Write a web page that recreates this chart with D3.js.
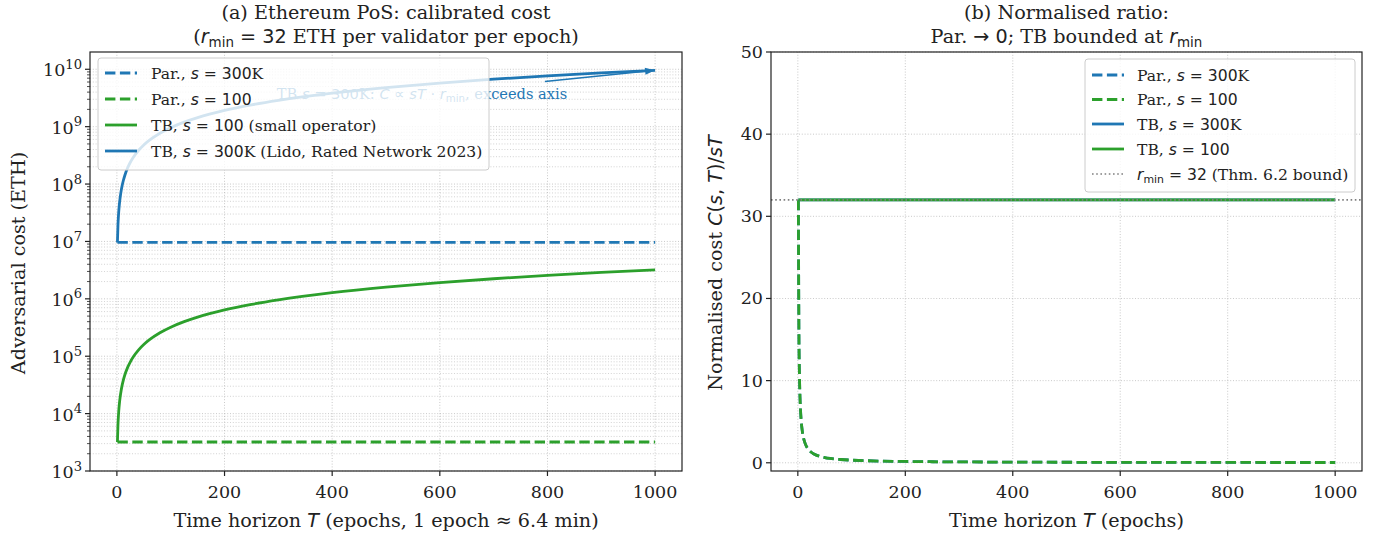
<!DOCTYPE html>
<html><head><meta charset="utf-8">
<script src="https://cdn.jsdelivr.net/npm/d3@7"></script>
<style>html,body{margin:0;padding:0;background:#fff;} svg{display:block;}</style>
</head><body>
<svg id="chart" width="1382" height="535"></svg>
<script>
// ---------------- DATA ----------------
const T_SAMPLES = [1,2,3,4,5,6,8,10,12,15,20,25,30,40,50,60,80,100,125,150,200,250,300,400,500,600,700,800,900,1000];
const T_ENDS = [1, 1000];
// Panel (a): adversarial cost (ETH)
const TB_S100_COST = [3200,6400,9600,12800,16000,19200,25600,32000,38400,48000,64000,80000,96000,128000,160000,192000,256000,320000,400000,480000,640000,800000,960000,1280000,1600000,1920000,2240000,2560000,2880000,3200000];
const TB_S300K_COST = [9.6e6,1.92e7,2.88e7,3.84e7,4.8e7,5.76e7,7.68e7,9.6e7,1.152e8,1.44e8,1.92e8,2.4e8,2.88e8,3.84e8,4.8e8,5.76e8,7.68e8,9.6e8,1.2e9,1.44e9,1.92e9,2.4e9,2.88e9,3.84e9,4.8e9,5.76e9,6.72e9,7.68e9,8.64e9,9.6e9];
const PAR_S300K_COST = [9.6e6, 9.6e6];
const PAR_S100_COST = [3200, 3200];
// Panel (b): normalised ratio C/(sT)
const PAR_RATIO = [32,16,10.67,8,6.4,5.33,4,3.2,2.67,2.13,1.6,1.28,1.07,0.8,0.64,0.53,0.4,0.32,0.256,0.213,0.16,0.128,0.107,0.08,0.064,0.053,0.046,0.04,0.036,0.032];
const TB_RATIO = [32, 32];
const R_MIN = 32;
// Axes ticks
const X_TICKS = [0,200,400,600,800,1000];
const LOG_TICKS = [3,4,5,6,7,8,9,10];
const RATIO_TICKS = [0,10,20,30,40,50];
const ANNOT_POINT = [1000, 9.6e9];

// ---------------- SETUP ----------------
const svg = d3.select("#chart");
const BLUE = "#1f77b4", GREEN = "#2ca02c";
const SERIF = "DejaVu Serif", SANS = "DejaVu Sans";
const LW = 2.8;
const DASH = "10.4,4.5";
const FT = 17.5, FL = 19.2, FLEG = 15.6, FA = 14.6;

function rich(t, parts, size) {
  let pendingDy = 0;
  parts.forEach(([s, k]) => {
    const sp = t.append("tspan").text(s);
    let dy = pendingDy; pendingDy = 0;
    if (k === "r") { sp.attr("font-family", SERIF); }
    else if (k === "i") { sp.attr("font-family", SANS).attr("font-style", "italic"); }
    else if (k === "m") { sp.attr("font-family", SANS); }
    else if (k === "sub") { sp.attr("font-family", SANS).attr("font-size", size*0.7); dy += size*0.22; pendingDy = -size*0.22; }
    else if (k === "sup") { sp.attr("font-family", SERIF).attr("font-size", size*0.75); dy += -size*0.42; pendingDy = size*0.42; }
    if (dy) sp.attr("dy", dy);
  });
  return t;
}

function frame(g, x0, x1, y0, y1) {
  g.append("rect").attr("x", x0).attr("y", y0).attr("width", x1-x0).attr("height", y1-y0)
    .attr("fill", "none").attr("stroke", "#222").attr("stroke-width", 1.2);
}

function gridLine(g, x1, y1, x2, y2, op) {
  g.append("line").attr("x1", x1).attr("y1", y1).attr("x2", x2).attr("y2", y2)
    .attr("stroke", "#b0b0b0").attr("stroke-width", 0.9).attr("stroke-dasharray", "1,1.8")
    .attr("opacity", op);
}

// ---------------- PANEL A ----------------
const A = {l: 90, r: 682, t: 52, b: 471};
const xA = d3.scaleLinear().domain([-49.95, 1049.95]).range([A.l, A.r]);
const yA = d3.scaleLog().domain([1e3, 2e10]).range([A.b, A.t]);
const gA = svg.append("g");
svg.append("clipPath").attr("id", "clipA").append("rect").attr("x", A.l).attr("y", A.t).attr("width", A.r-A.l).attr("height", A.b-A.t);
const gridA = gA.append("g");
X_TICKS.forEach(v => gridLine(gridA, xA(v), A.t, xA(v), A.b, 0.75));
for (let e = 3; e <= 10; e++) {
  gridLine(gridA, A.l, yA(Math.pow(10, e)), A.r, yA(Math.pow(10, e)), 0.75);
  for (let m = 2; m <= 9; m++) {
    const v = m * Math.pow(10, e);
    if (v < 2e10) gridLine(gridA, A.l, yA(v), A.r, yA(v), 0.6);
  }
}
const lineA = (xs, ys) => d3.line().x((d, i) => xA(xs[i])).y((d) => yA(d)).curve(d3.curveMonotoneX)(ys);
const plotA = gA.append("g").attr("clip-path", "url(#clipA)");
plotA.append("path").attr("d", lineA(T_ENDS, PAR_S300K_COST)).attr("fill", "none").attr("stroke", BLUE).attr("stroke-width", LW).attr("stroke-dasharray", DASH);
plotA.append("path").attr("d", lineA(T_ENDS, PAR_S100_COST)).attr("fill", "none").attr("stroke", GREEN).attr("stroke-width", LW).attr("stroke-dasharray", DASH);
plotA.append("path").attr("d", lineA(T_SAMPLES, TB_S100_COST)).attr("fill", "none").attr("stroke", GREEN).attr("stroke-width", LW);
plotA.append("path").attr("d", lineA(T_SAMPLES, TB_S300K_COST)).attr("fill", "none").attr("stroke", BLUE).attr("stroke-width", LW);

// annotation
const annCx = 422, annCy = 94;
const annT = gA.append("text").attr("x", annCx).attr("y", annCy + 5).attr("text-anchor", "middle").attr("font-size", FA).attr("fill", BLUE);
rich(annT, [["TB ", "r"], ["s", "i"], [" = 300", "m"], ["K: ", "r"], ["C", "i"], [" \u221D ", "m"], ["sT", "i"], [" \u00B7 ", "m"], ["r", "i"], ["min", "sub"], [", exceeds axis", "r"]], FA);
{
  const px = xA(ANNOT_POINT[0]), py = yA(ANNOT_POINT[1]);
  const slope = (py - annCy) / (px - annCx);
  const sy = annCy - 12.5, sx = annCx + (sy - annCy) / slope;
  const ang = Math.atan2(py - sy, px - sx);
  const hl = 10, hw = 3.5;
  const bx = px - hl*Math.cos(ang), by = py - hl*Math.sin(ang);
  gA.append("line").attr("x1", sx).attr("y1", sy).attr("x2", bx).attr("y2", by).attr("stroke", BLUE).attr("stroke-width", 1.4);
  const p1 = [bx + hw*Math.sin(ang), by - hw*Math.cos(ang)], p2 = [bx - hw*Math.sin(ang), by + hw*Math.cos(ang)];
  gA.append("path").attr("d", `M${px},${py}L${p1[0]},${p1[1]}L${p2[0]},${p2[1]}Z`).attr("fill", BLUE);
}

// axes A
frame(gA, A.l, A.r, A.t, A.b);
X_TICKS.forEach(v => {
  gA.append("line").attr("x1", xA(v)).attr("x2", xA(v)).attr("y1", A.b).attr("y2", A.b + 5).attr("stroke", "#222").attr("stroke-width", 1.2);
  gA.append("text").attr("x", xA(v)).attr("y", A.b + 27).attr("text-anchor", "middle").attr("font-family", SERIF).attr("font-size", FT).attr("fill", "#222").text(v);
});
LOG_TICKS.forEach(e => {
  const y = yA(Math.pow(10, e));
  gA.append("line").attr("x1", A.l - 5).attr("x2", A.l).attr("y1", y).attr("y2", y).attr("stroke", "#222").attr("stroke-width", 1.2);
  const t = gA.append("text").attr("x", A.l - 8).attr("y", y + 7).attr("text-anchor", "end").attr("font-family", SERIF).attr("font-size", FT).attr("fill", "#222");
  rich(t, [["10", "r"], [String(e), "sup"]], FT);
  for (let m = 2; m <= 9; m++) {
    const v = m * Math.pow(10, e);
    if (v < 2e10) gA.append("line").attr("x1", A.l - 3).attr("x2", A.l).attr("y1", yA(v)).attr("y2", yA(v)).attr("stroke", "#222").attr("stroke-width", 0.8);
  }
});
gA.append("text").attr("transform", `translate(25,263) rotate(-90)`).attr("text-anchor", "middle").attr("font-family", SERIF).attr("font-size", FL).attr("fill", "#222").text("Adversarial cost (ETH)");
{
  const t = gA.append("text").attr("x", (A.l + A.r)/2).attr("y", 527).attr("text-anchor", "middle").attr("font-size", FL).attr("fill", "#222");
  rich(t, [["Time horizon ", "r"], ["T", "i"], [" (epochs, 1 epoch \u2248 6.4 min)", "r"]], FL);
}
gA.append("text").attr("x", (A.l + A.r)/2).attr("y", 19).attr("text-anchor", "middle").attr("font-family", SERIF).attr("font-size", FL).attr("fill", "#222").text("(a) Ethereum PoS: calibrated cost");
{
  const t = gA.append("text").attr("x", (A.l + A.r)/2).attr("y", 43).attr("text-anchor", "middle").attr("font-size", FL).attr("fill", "#222");
  rich(t, [["(", "r"], ["r", "i"], ["min", "sub"], [" = 32", "m"], [" ETH per validator per epoch)", "r"]], FL);
}

// legend helper
function legend(g, x0, y0, w, h, items, textX, hx0, hx1) {
  g.append("rect").attr("x", x0).attr("y", y0).attr("width", w).attr("height", h).attr("rx", 3)
    .attr("fill", "#fff").attr("fill-opacity", 0.8).attr("stroke", "#cccccc").attr("stroke-width", 1);
  items.forEach(it => {
    const ln = g.append("line").attr("x1", hx0).attr("x2", hx1).attr("y1", it.y).attr("y2", it.y)
      .attr("stroke", it.color).attr("stroke-width", it.w);
    if (it.dash) ln.attr("stroke-dasharray", it.dash);
    const t = g.append("text").attr("x", textX).attr("y", it.y + 5.5).attr("font-size", FLEG).attr("fill", "#222");
    rich(t, it.parts, FLEG);
  });
}
legend(gA, 98, 58, 391, 112, [
  {y: 73, color: BLUE, w: LW, dash: DASH, parts: [["Par., ", "r"], ["s", "i"], [" = 300", "m"], ["K", "r"]]},
  {y: 99, color: GREEN, w: LW, dash: DASH, parts: [["Par., ", "r"], ["s", "i"], [" = 100", "m"]]},
  {y: 125, color: GREEN, w: LW, parts: [["TB, ", "r"], ["s", "i"], [" = 100", "m"], [" (small operator)", "r"]]},
  {y: 151, color: BLUE, w: LW, parts: [["TB, ", "r"], ["s", "i"], [" = 300", "m"], ["K (Lido, Rated Network 2023)", "r"]]}
], 151, 105, 137);

// ---------------- PANEL B ----------------
const B = {l: 771, r: 1362, t: 52, b: 471};
const xB = d3.scaleLinear().domain([-49.95, 1049.95]).range([B.l, B.r]);
const yB = d3.scaleLinear().domain([-1, 50]).range([B.b, B.t]);
const gB = svg.append("g");
svg.append("clipPath").attr("id", "clipB").append("rect").attr("x", B.l).attr("y", B.t).attr("width", B.r-B.l).attr("height", B.b-B.t);
X_TICKS.forEach(v => gridLine(gB, xB(v), B.t, xB(v), B.b, 0.75));
RATIO_TICKS.forEach(v => gridLine(gB, B.l, yB(v), B.r, yB(v), 0.75));
const lineB = (xs, ys) => d3.line().x((d, i) => xB(xs[i])).y(d => yB(d)).curve(d3.curveMonotoneX)(ys);
const plotB = gB.append("g").attr("clip-path", "url(#clipB)");
plotB.append("path").attr("d", lineB(T_SAMPLES, PAR_RATIO)).attr("fill", "none").attr("stroke", BLUE).attr("stroke-width", LW).attr("stroke-dasharray", DASH);
plotB.append("path").attr("d", lineB(T_SAMPLES, PAR_RATIO)).attr("fill", "none").attr("stroke", GREEN).attr("stroke-width", LW).attr("stroke-dasharray", DASH);
plotB.append("path").attr("d", lineB(T_ENDS, TB_RATIO)).attr("fill", "none").attr("stroke", BLUE).attr("stroke-width", LW);
plotB.append("path").attr("d", lineB(T_ENDS, TB_RATIO)).attr("fill", "none").attr("stroke", GREEN).attr("stroke-width", LW);
plotB.append("line").attr("x1", B.l).attr("x2", B.r).attr("y1", yB(R_MIN)).attr("y2", yB(R_MIN)).attr("stroke", "#808080").attr("stroke-width", 1.6).attr("stroke-dasharray", "1.6,2.6");

frame(gB, B.l, B.r, B.t, B.b);
X_TICKS.forEach(v => {
  gB.append("line").attr("x1", xB(v)).attr("x2", xB(v)).attr("y1", B.b).attr("y2", B.b + 5).attr("stroke", "#222").attr("stroke-width", 1.2);
  gB.append("text").attr("x", xB(v)).attr("y", B.b + 27).attr("text-anchor", "middle").attr("font-family", SERIF).attr("font-size", FT).attr("fill", "#222").text(v);
});
RATIO_TICKS.forEach(v => {
  gB.append("line").attr("x1", B.l - 5).attr("x2", B.l).attr("y1", yB(v)).attr("y2", yB(v)).attr("stroke", "#222").attr("stroke-width", 1.2);
  gB.append("text").attr("x", B.l - 8).attr("y", yB(v) + 6).attr("text-anchor", "end").attr("font-family", SERIF).attr("font-size", FT).attr("fill", "#222").text(v);
});
{
  const t = gB.append("text").attr("transform", `translate(722,263) rotate(-90)`).attr("text-anchor", "middle").attr("font-size", FL).attr("fill", "#222");
  rich(t, [["Normalised cost ", "r"], ["C", "i"], ["(", "m"], ["s", "i"], [", ", "m"], ["T", "i"], [")/", "m"], ["sT", "i"]], FL);
}
{
  const t = gB.append("text").attr("x", (B.l + B.r)/2).attr("y", 527).attr("text-anchor", "middle").attr("font-size", FL).attr("fill", "#222");
  rich(t, [["Time horizon ", "r"], ["T", "i"], [" (epochs)", "r"]], FL);
}
gB.append("text").attr("x", (B.l + B.r)/2).attr("y", 19).attr("text-anchor", "middle").attr("font-family", SERIF).attr("font-size", FL).attr("fill", "#222").text("(b) Normalised ratio:");
{
  const t = gB.append("text").attr("x", (B.l + B.r)/2).attr("y", 43).attr("text-anchor", "middle").attr("font-size", FL).attr("fill", "#222");
  rich(t, [["Par. ", "r"], ["\u2192 0", "m"], ["; TB bounded at ", "r"], ["r", "i"], ["min", "sub"]], FL);
}
legend(gB, 1085, 59, 270, 133, [
  {y: 75, color: BLUE, w: LW, dash: DASH, parts: [["Par., ", "r"], ["s", "i"], [" = 300", "m"], ["K", "r"]]},
  {y: 99.5, color: GREEN, w: LW, dash: DASH, parts: [["Par., ", "r"], ["s", "i"], [" = 100", "m"]]},
  {y: 124, color: BLUE, w: LW, parts: [["TB, ", "r"], ["s", "i"], [" = 300", "m"], ["K", "r"]]},
  {y: 149, color: GREEN, w: LW, parts: [["TB, ", "r"], ["s", "i"], [" = 100", "m"]]},
  {y: 174, color: "#808080", w: 1.6, dash: "1.6,2.6", parts: [["r", "i"], ["min", "sub"], [" = 32", "m"], [" (Thm. 6.2 bound)", "r"]]}
], 1137, 1092, 1124);
</script>
</body></html>
